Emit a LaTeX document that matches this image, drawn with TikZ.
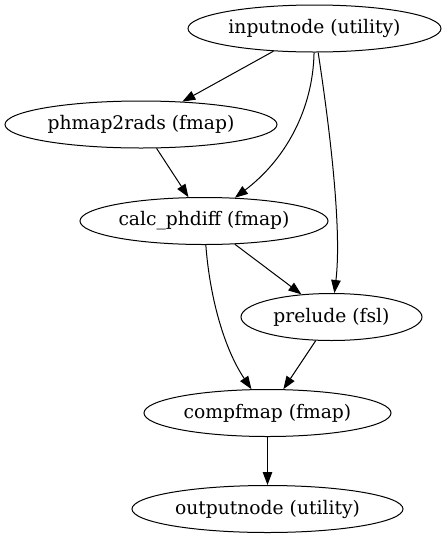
\documentclass[tikz,border=0pt]{standalone}
\usepackage{fontspec}
\setmainfont{DejaVu Serif}
\usetikzlibrary{shapes.geometric,arrows.meta}
\begin{document}
\begin{tikzpicture}[x=1pt,y=-1pt,
  every node/.style={font=\fontsize{18.7}{22}\selectfont},
  nd/.style={ellipse,draw,line width=1pt,inner sep=0pt,minimum height=47pt},
  edge/.style={line width=1pt,-{Triangle[length=13pt,width=9.5pt]}}]
\useasboundingbox (0,0) rectangle (447,539);
\node[nd,minimum width=253pt] (in) at (314.5,28.5) {inputnode (utility)};
\node[nd,minimum width=272pt] (ph) at (141,124.5) {phmap2rads (fmap)};
\node[nd,minimum width=248pt] (calc) at (204,221) {calc\_phdiff (fmap)};
\node[nd,minimum width=181pt] (pre) at (331.5,317) {prelude (fsl)};
\node[nd,minimum width=247pt] (comp) at (267.5,413) {compfmap (fmap)};
\node[nd,minimum width=271pt] (out) at (267.5,509) {outputnode (utility)};
\draw[edge] (in) -- (ph);
\draw[edge] (in) .. controls (313,110) and (285,160) .. (calc);
\draw[edge] (in) .. controls (330,130) and (342,230) .. (pre);
\draw[edge] (ph) -- (calc);
\draw[edge] (calc) -- (pre);
\draw[edge] (calc) .. controls (210,300) and (225,350) .. (comp);
\draw[edge] (pre) -- (comp);
\draw[edge] (comp) -- (out);
\end{tikzpicture}
\end{document}
